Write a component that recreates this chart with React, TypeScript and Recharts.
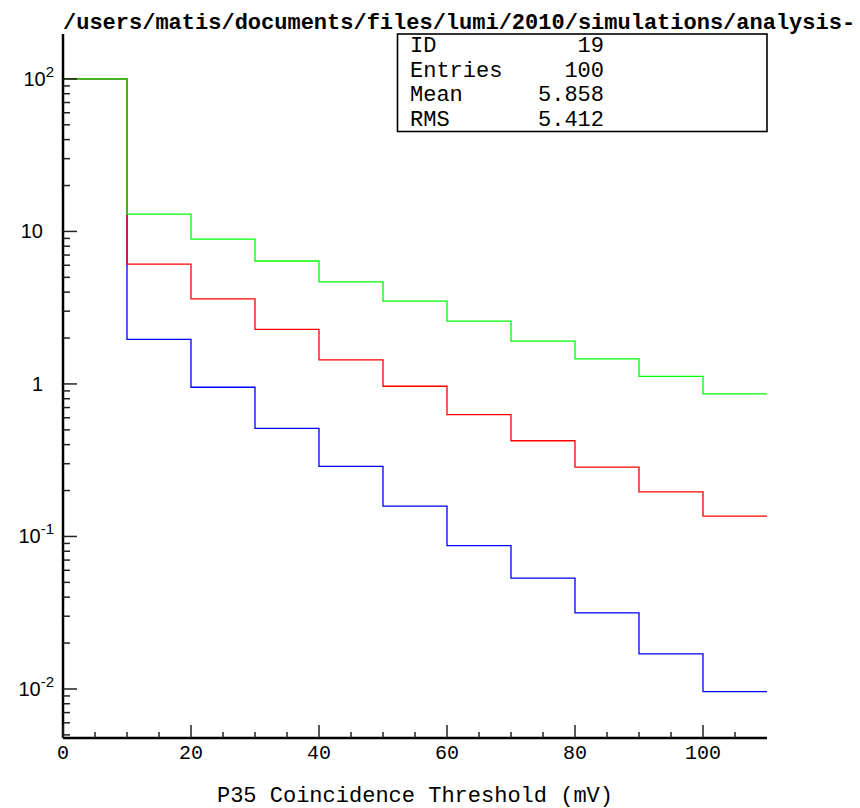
import { LineChart, Line, XAxis, YAxis } from 'recharts';

const binEdges = [0, 10, 20, 30, 40, 50, 60, 70, 80, 90, 100];
const xMax = 110;

const greenValues = [100, 13, 8.9, 6.4, 4.67, 3.49, 2.58, 1.91, 1.46, 1.12, 0.86];
const redValues = [100, 6.1, 3.61, 2.28, 1.44, 0.966, 0.63, 0.424, 0.285, 0.196, 0.136];
const blueValues = [100, 1.96, 0.951, 0.512, 0.288, 0.158, 0.087, 0.0533, 0.0315, 0.017, 0.0096];

const xTicks = [0, 5, 10, 15, 20, 25, 30, 35, 40, 45, 50, 55, 60, 65, 70, 75, 80, 85, 90, 95, 100, 105];
const yMin = 0.00477;
const yMax = 197;

const statLabels = ['ID', 'Entries', 'Mean', 'RMS'];
const statValues = ['19', '100', '5.858', '5.412'];

const title = '/users/matis/documents/files/lumi/2010/simulations/analysis-';
const xTitle = 'P35 Coincidence Threshold (mV)';

const MONO = '"Liberation Mono", "DejaVu Sans Mono", monospace';
const SANS = '"Liberation Sans", Arial, sans-serif';

// log ticks: 1..9 x 10^k inside the domain
const yTicks: number[] = [];
for (let e = -3; e <= 2; e++) {
  for (let m = 1; m <= 9; m++) {
    const v = m * Math.pow(10, e);
    if (v > yMin && v < yMax) yTicks.push(v);
  }
}

// step histogram: repeat last bin value at the right edge
const data = [...binEdges, xMax].map((x, i) => {
  const k = Math.min(i, binEdges.length - 1);
  return { x, green: greenValues[k], red: redValues[k], blue: blueValues[k] };
});

const XTick = (props: any) => {
  const { x, y, payload } = props;
  const major = payload.value % 20 === 0;
  return (
    <g>
      <line x1={x} y1={y} x2={x} y2={y - (major ? 13 : 6)} stroke="#222" strokeWidth={1.5} />
      {major && (
        <text x={x} y={y + 21} textAnchor="middle" fontFamily={MONO} fontSize={20} fill="#000">
          {payload.value}
        </text>
      )}
    </g>
  );
};

const YTick = (props: any) => {
  const { x, y, payload } = props;
  const lg = Math.log10(payload.value);
  const e = Math.round(lg);
  const major = Math.abs(lg - e) < 1e-6;
  let label = null;
  if (major) {
    if (e === 0 || e === 1) {
      label = (
        <text x={x - 20} y={y + 7} textAnchor="end" fontFamily={SANS} fontSize={20} fill="#000">
          {e === 0 ? '1' : '10'}
        </text>
      );
    } else {
      label = (
        <text x={x - 9} y={y + 7} textAnchor="end" fontFamily={SANS} fontSize={20} fill="#000">
          10
          <tspan dy={-9} fontSize={15}>
            {e}
          </tspan>
        </text>
      );
    }
  }
  return (
    <g>
      <line x1={x} y1={y} x2={x + (major ? 14 : 7)} y2={y} stroke="#222" strokeWidth={1.5} />
      {label}
    </g>
  );
};

const App = () => {
  return (
    <div style={{ position: 'absolute', left: 0, top: 0, width: 860, height: 808, background: '#fff' }}>
      <LineChart
        width={860}
        height={808}
        data={data}
        margin={{ top: 34, right: 93, bottom: 0, left: 0 }}
      >
        <XAxis
          dataKey="x"
          type="number"
          domain={[0, xMax]}
          ticks={xTicks}
          interval={0}
          height={70}
          tickSize={0}
          tickMargin={0}
          tickLine={false}
          axisLine={{ stroke: '#000', strokeWidth: 2.5 }}
          tick={<XTick />}
          allowDataOverflow
        />
        <XAxis
          xAxisId="frameTop"
          orientation="top"
          dataKey="x"
          type="number"
          domain={[0, xMax]}
          height={0}
          tick={false}
          tickLine={false}
          axisLine={{ stroke: '#000', strokeWidth: 1.6 }}
        />
        <YAxis
          type="number"
          scale="log"
          domain={[yMin, yMax]}
          ticks={yTicks}
          interval={0}
          width={63}
          tickSize={0}
          tickMargin={0}
          tickLine={false}
          axisLine={{ stroke: '#000', strokeWidth: 2.5 }}
          tick={<YTick />}
          allowDataOverflow
        />
        <YAxis
          yAxisId="frameRight"
          orientation="right"
          type="number"
          scale="log"
          domain={[yMin, yMax]}
          width={0}
          tick={false}
          tickLine={false}
          axisLine={{ stroke: '#000', strokeWidth: 2.2 }}
          allowDataOverflow
        />
        <Line type="stepAfter" dataKey="blue" stroke="#0000ff" strokeWidth={1.3} dot={false} isAnimationActive={false} />
        <Line type="stepAfter" dataKey="red" stroke="#ff0000" strokeWidth={1.3} dot={false} isAnimationActive={false} />
        <Line type="stepAfter" dataKey="green" stroke="#00ff00" strokeWidth={1.3} dot={false} isAnimationActive={false} />
      </LineChart>

      <svg
        width={860}
        height={808}
        style={{ position: 'absolute', left: 0, top: 0, pointerEvents: 'none' }}
      >
        <text x={63} y={29} fontFamily={MONO} fontWeight="bold" fontSize={22} fill="#000">
          {title}
        </text>
        <rect x={397.5} y={34} width={369.5} height={97.5} fill="#fff" stroke="#000" strokeWidth={1.6} />
        {statLabels.map((s, i) => (
          <g key={s}>
            <text x={410} y={52 + i * 24.5} fontFamily={MONO} fontSize={22} fill="#000">
              {s}
            </text>
            <text x={604} y={52 + i * 24.5} textAnchor="end" fontFamily={MONO} fontSize={22} fill="#000">
              {statValues[i]}
            </text>
          </g>
        ))}
        <text x={415} y={802} textAnchor="middle" fontFamily={MONO} fontSize={22} fill="#000">
          {xTitle}
        </text>
      </svg>
    </div>
  );
};

export default App;
